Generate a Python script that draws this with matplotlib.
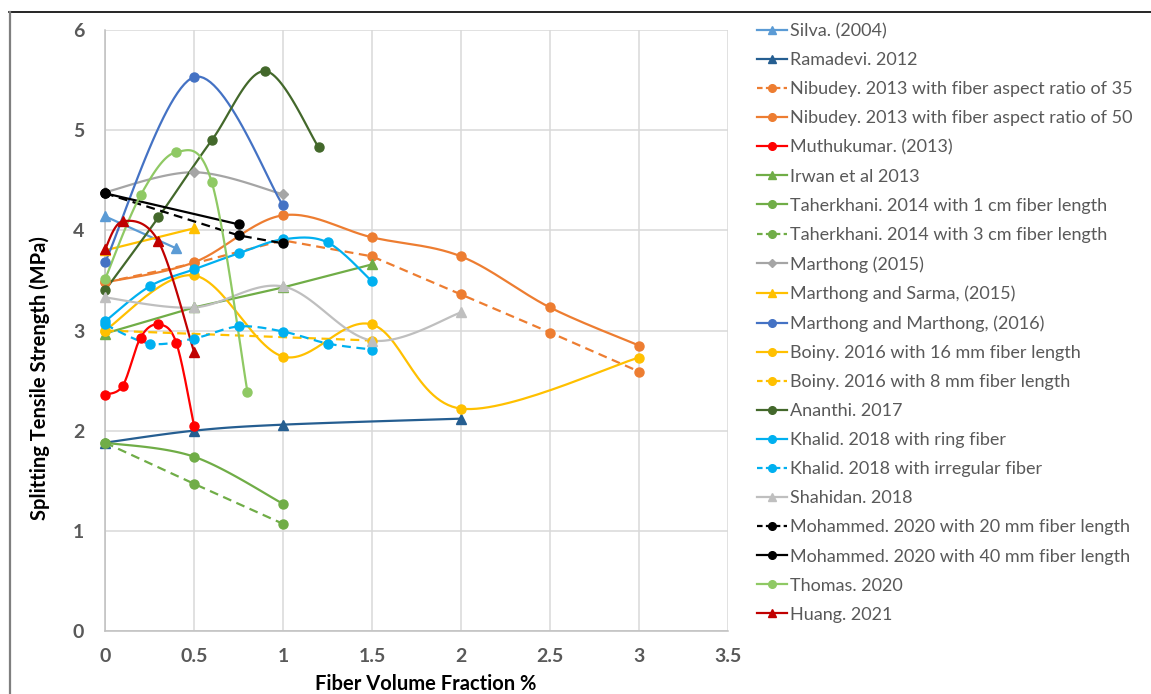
import matplotlib
matplotlib.use("Agg")
import matplotlib.pyplot as plt
from matplotlib.lines import Line2D
import numpy as np

plt.rcParams['font.family'] = ['Lato', 'DejaVu Sans']

# ---- data ----
silva_x = [0, 0.4]
silva_y = [4.14, 3.82]
ramadevi_x = [0, 0.5, 1, 2]
ramadevi_y = [1.88, 2.0, 2.06, 2.12]
nibudey35_x = [0, 0.5, 1, 1.5, 2, 2.5, 3]
nibudey35_y = [3.48, 3.67, 3.9, 3.74, 3.36, 2.98, 2.59]
nibudey50_x = [0, 0.5, 1, 1.5, 2, 2.5, 3]
nibudey50_y = [3.48, 3.68, 4.15, 3.93, 3.74, 3.23, 2.85]
muthu_x = [0, 0.1, 0.2, 0.3, 0.4, 0.5]
muthu_y = [2.36, 2.45, 2.93, 3.06, 2.88, 2.05]
irwan_x = [0, 0.5, 1, 1.5]
irwan_y = [2.97, 3.23, 3.43, 3.66]
taher1_x = [0, 0.5, 1]
taher1_y = [1.88, 1.74, 1.27]
taher3_x = [0, 0.5, 1]
taher3_y = [1.88, 1.47, 1.07]
marthong15_x = [0, 0.5, 1]
marthong15_y = [4.38, 4.58, 4.36]
sarma_x = [0, 0.5]
sarma_y = [3.8, 4.02]
mm16_x = [0, 0.5, 1]
mm16_y = [3.68, 5.53, 4.25]
boiny16_x = [0, 0.5, 1, 1.5, 2, 3]
boiny16_y = [3.0, 3.55, 2.74, 3.06, 2.22, 2.73]
boiny8_x = [0, 1.5]
boiny8_y = [3.0, 2.9]
ananthi_x = [0, 0.3, 0.6, 0.9, 1.2]
ananthi_y = [3.4, 4.13, 4.9, 5.59, 4.83]
khalid_ring_x = [0, 0.25, 0.5, 0.75, 1, 1.25, 1.5]
khalid_ring_y = [3.09, 3.44, 3.61, 3.77, 3.91, 3.88, 3.49]
khalid_irr_x = [0, 0.25, 0.5, 0.75, 1, 1.25, 1.5]
khalid_irr_y = [3.06, 2.87, 2.92, 3.04, 2.99, 2.87, 2.81]
shahidan_x = [0, 0.5, 1, 1.5, 2]
shahidan_y = [3.33, 3.23, 3.44, 2.9, 3.18]
moh20_x = [0, 0.75, 1]
moh20_y = [4.37, 3.95, 3.87]
moh40_x = [0, 0.75]
moh40_y = [4.37, 4.06]
thomas_x = [0, 0.2, 0.4, 0.6, 0.8]
thomas_y = [3.51, 4.35, 4.78, 4.48, 2.39]
huang_x = [0, 0.1, 0.3, 0.5]
huang_y = [3.81, 4.09, 3.89, 2.79]

# label, x, y, color, marker, dashed, smooth
series = [
    ("Silva. (2004)", silva_x, silva_y, "#5B9BD5", "^", False, True),
    ("Ramadevi. 2012", ramadevi_x, ramadevi_y, "#255E91", "^", False, True),
    ("Nibudey. 2013 with fiber aspect ratio of 35", nibudey35_x, nibudey35_y, "#ED7D31", "o", True, False),
    ("Nibudey. 2013 with fiber aspect ratio of 50", nibudey50_x, nibudey50_y, "#ED7D31", "o", False, True),
    ("Muthukumar. (2013)", muthu_x, muthu_y, "#FF0000", "o", False, True),
    ("Irwan et al 2013", irwan_x, irwan_y, "#70AD47", "^", False, False),
    ("Taherkhani. 2014 with 1 cm fiber length", taher1_x, taher1_y, "#70AD47", "o", False, True),
    ("Taherkhani. 2014 with 3 cm fiber length", taher3_x, taher3_y, "#70AD47", "o", True, False),
    ("Marthong (2015)", marthong15_x, marthong15_y, "#A5A5A5", "D", False, True),
    ("Marthong and Sarma, (2015)", sarma_x, sarma_y, "#FFC000", "^", False, False),
    ("Marthong and Marthong, (2016)", mm16_x, mm16_y, "#4472C4", "o", False, True),
    ("Boiny. 2016 with 16 mm fiber length", boiny16_x, boiny16_y, "#FFC000", "o", False, True),
    ("Boiny. 2016 with 8 mm fiber length", boiny8_x, boiny8_y, "#FFC000", "o", True, False),
    ("Ananthi. 2017", ananthi_x, ananthi_y, "#43682B", "o", False, True),
    ("Khalid. 2018 with ring fiber", khalid_ring_x, khalid_ring_y, "#00B0F0", "o", False, True),
    ("Khalid. 2018 with irregular fiber", khalid_irr_x, khalid_irr_y, "#00B0F0", "o", True, True),
    ("Shahidan. 2018", shahidan_x, shahidan_y, "#BFBFBF", "^", False, True),
    ("Mohammed. 2020 with 20 mm fiber length", moh20_x, moh20_y, "#000000", "o", True, False),
    ("Mohammed. 2020 with 40 mm fiber length", moh40_x, moh40_y, "#000000", "o", False, False),
    ("Thomas. 2020", thomas_x, thomas_y, "#8FC964", "o", False, True),
    ("Huang. 2021", huang_x, huang_y, "#C00000", "^", False, True),
]


def smooth(x, y, n=30):
    # excel-like smoothed line (catmull-rom as cubic bezier)
    p = np.column_stack([x, y]).astype(float)
    if len(p) < 3:
        return p[:, 0], p[:, 1]
    out = []
    for i in range(len(p) - 1):
        p0 = p[max(i - 1, 0)]
        p1 = p[i]
        p2 = p[i + 1]
        p3 = p[min(i + 2, len(p) - 1)]
        c1 = p1 + (p2 - p0) / 6
        c2 = p2 - (p3 - p1) / 6
        t = np.linspace(0, 1, n)[:, None]
        seg = (1 - t) ** 3 * p1 + 3 * (1 - t) ** 2 * t * c1 + 3 * (1 - t) * t ** 2 * c2 + t ** 3 * p2
        out.append(seg if i == 0 else seg[1:])
    out = np.vstack(out)
    return out[:, 0], out[:, 1]


W, H = 1151, 694
fig = plt.figure(figsize=(W / 100, H / 100), dpi=100)
ax = fig.add_axes([105 / W, 1 - 631 / H, (728 - 105) / W, (631 - 30) / H])

handles = []
for label, xs, ys, col, mk, dashed, sm in series:
    ls = (0, (4, 2.5)) if dashed else '-'
    if sm:
        sx, sy = smooth(xs, ys)
    else:
        sx, sy = xs, ys
    ax.plot(sx, sy, color=col, lw=1.6, ls=ls, clip_on=False, zorder=3)
    ms = 6.5 if mk != "D" else 5.5
    ax.plot(xs, ys, ls='none', marker=mk, ms=ms, color=col, mec=col, clip_on=False, zorder=4)
    handles.append(Line2D([], [], color=col, lw=1.6, ls=(0, (2.5, 1.5)) if dashed else '-',
                          marker=mk, ms=5.5 if mk != "D" else 4.5, mec=col, label=label))

ax.set_xlim(0, 3.5)
ax.set_ylim(0, 6)
ax.set_xticks(np.arange(0, 3.51, 0.5))
ax.set_xticklabels(["0", "0.5", "1", "1.5", "2", "2.5", "3", "3.5"])
ax.set_yticks(range(7))
ax.grid(True, color="#D9D9D9", lw=1.1, zorder=0)
ax.set_axisbelow(True)
for s in ["top", "right"]:
    ax.spines[s].set_visible(False)
for s in ["left", "bottom"]:
    ax.spines[s].set_color("#BFBFBF")
    ax.spines[s].set_linewidth(1.1)
ax.tick_params(length=0, labelsize=14, labelcolor="#595959")
ax.tick_params(axis='x', pad=12)
ax.tick_params(axis='y', pad=15)
for t in ax.get_xticklabels() + ax.get_yticklabels():
    t.set_fontweight("bold")

fig.text(40 / W, 1 - 378 / H, "Splitting Tensile Strength (MPa)", rotation=90,
         ha='center', va='center', fontsize=14.5, fontweight='bold', color='black')
fig.text(426 / W, 1 - 684 / H, "Fiber Volume Fraction %", ha='center', va='center',
         fontsize=14.5, fontweight='bold', color='black')

leg = fig.legend(handles=handles, loc='upper left', bbox_to_anchor=(757 / W, 1 - 23 / H),
                 frameon=False, fontsize=13, labelspacing=0.725, handlelength=1.65,
                 handletextpad=0.2, borderaxespad=0, borderpad=0)
for t in leg.get_texts():
    t.set_color("#595959")

# chart frame lines
fig.add_artist(Line2D([9 / W, 1], [1 - 12 / H, 1 - 12 / H], color='black', lw=1.2))
fig.add_artist(Line2D([9.5 / W, 9.5 / W], [0, 1 - 12 / H], color='#7F7F7F', lw=1.6))

fig.savefig("out.png", dpi=100)
